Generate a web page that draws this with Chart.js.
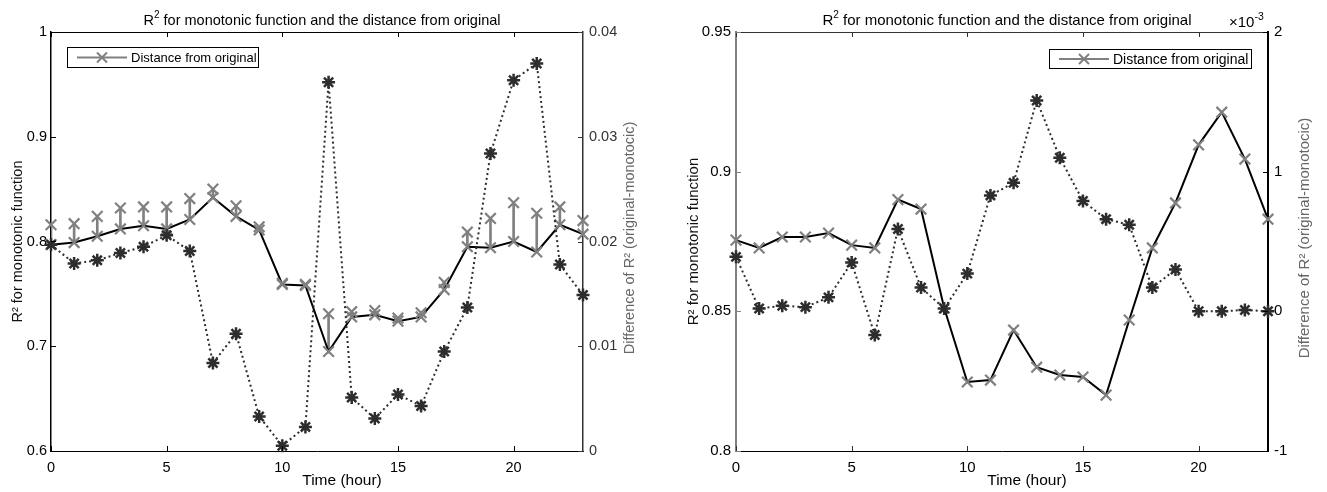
<!DOCTYPE html>
<html>
<head>
<meta charset="utf-8">
<script src="https://cdn.jsdelivr.net/npm/chart.js@4.4.1/dist/chart.umd.min.js"></script>
<style>
  body { margin: 0; background: #fff; }
  .pane { position: absolute; top: 0; }
</style>
</head>
<body>
<canvas id="left" class="pane" width="663" height="492" style="left:0"></canvas>
<canvas id="right" class="pane" width="664" height="492" style="left:663px"></canvas>
<script>
// hours on the x axis
const hours = [0,1,2,3,4,5,6,7,8,9,10,11,12,13,14,15,16,17,18,19,20,21,22,23];
const hourTicks = [0,5,10,15,20];

// left panel
const monoLeft = [0.797,0.799,0.805,0.812,0.815,0.812,0.821,0.842,0.824,0.811,0.759,0.758,0.695,0.728,0.730,0.724,0.728,0.754,0.795,0.794,0.800,0.790,0.816,0.807];
const origLeft = [0.816,0.817,0.824,0.832,0.833,0.833,0.841,0.850,0.834,0.814,0.760,0.759,0.731,0.733,0.734,0.727,0.732,0.761,0.809,0.822,0.837,0.827,0.833,0.820];
const diffLeft = [0.0197,0.0179,0.0182,0.0189,0.0195,0.0206,0.0191,0.0084,0.0112,0.0033,0.0005,0.0023,0.0352,0.0051,0.0031,0.0054,0.0043,0.0095,0.0137,0.0284,0.0354,0.0370,0.0178,0.0149];
const r2TicksLeft = [0.6,0.7,0.8,0.9,1];
const diffTicksLeft = [0,0.01,0.02,0.03,0.04];

// right panel (difference in units of 10^-3)
const monoRight = [0.8755,0.8727,0.8766,0.8766,0.878,0.8737,0.8727,0.890,0.8866,0.8512,0.8247,0.8254,0.8433,0.830,0.8272,0.8265,0.820,0.8469,0.8727,0.8888,0.9096,0.9213,0.9045,0.883];
const diffRight = [0.39,0.02,0.04,0.03,0.10,0.35,-0.17,0.59,0.17,0.02,0.27,0.83,0.92,1.51,1.10,0.79,0.66,0.62,0.17,0.30,0.00,0.00,0.01,0.00];
const r2TicksRight = [0.8,0.85,0.9,0.95];
const diffTicksRight = [-1,0,1,2];

const fam = "'Liberation Sans', Arial, sans-serif";
const gray = 'rgb(128,128,128)';
const dark = 'rgb(45,45,45)';

function setTicks(arr) {
	return function(s) { s.ticks = arr.map(v => ({ value: v })); };
}
function fmt(v) { return String(+Number(v).toFixed(3)); }

// matlab-like frame: top edge, inward ticks, titles, legend box
const matlabFrame = {
	id: 'matlabFrame',
	afterDraw(chart, args, o) {
		const ctx = chart.ctx, a = chart.chartArea, sc = chart.scales;
		const fs = o.fs;
		ctx.save();
		function seg(x1, y1, x2, y2, col, w) {
			ctx.strokeStyle = col; ctx.lineWidth = w || 1;
			ctx.beginPath(); ctx.moveTo(x1, y1); ctx.lineTo(x2, y2); ctx.stroke();
		}
		seg(a.left, a.top + 0.5, a.right, a.top + 0.5, o.topColor);
		sc.x.ticks.forEach(t => {
			const px = Math.round(sc.x.getPixelForValue(t.value)) + 0.5;
			seg(px, a.bottom, px, a.bottom - 5, o.topColor);
			seg(px, a.top, px, a.top + 5, o.topColor);
		});
		sc.yL.ticks.forEach(t => {
			const py = Math.round(sc.yL.getPixelForValue(t.value)) + 0.5;
			seg(a.left, py, a.left + 5, py, o.leftColor);
		});
		sc.yR.ticks.forEach(t => {
			const py = Math.round(sc.yR.getPixelForValue(t.value)) + 0.5;
			seg(a.right, py, a.right - 5, py, o.rightColor);
		});

		// title with superscript
		ctx.fillStyle = '#000';
		ctx.textBaseline = 'alphabetic';
		const big = fs + 'px ' + fam, small = '10px ' + fam;
		const rest = ' for monotonic function and the distance from original';
		ctx.font = big; const wR = ctx.measureText('R').width, wRest = ctx.measureText(rest).width;
		ctx.font = small; const w2 = ctx.measureText('2').width;
		let tx = (a.left + a.right) / 2 - (wR + w2 + wRest) / 2 + 5;
		const ty = 25;
		ctx.font = big; ctx.fillText('R', tx, ty); tx += wR;
		ctx.font = small; ctx.fillText('2', tx, ty - 7); tx += w2;
		ctx.font = big; ctx.fillText(rest, tx, ty);

		// x axis title
		ctx.font = '15.5px ' + fam;
		ctx.textAlign = 'center';
		ctx.textBaseline = 'middle';
		ctx.fillText('Time (hour)', (a.left + a.right) / 2 + 25, 481);

		// right axis title, reading bottom to top
		const rt = o.rightTitle;
		ctx.save();
		ctx.translate(rt.x, 238);
		ctx.rotate(-Math.PI / 2);
		ctx.fillStyle = '#666';
		ctx.font = fs + 'px ' + fam;
		ctx.fillText(rt.text, 0, 0);
		ctx.restore();
		ctx.textAlign = 'left';

		// exponent label
		if (o.exponent) {
			ctx.textBaseline = 'alphabetic';
			ctx.font = '15px ' + fam;
			ctx.fillText('\u00d710', o.exponent.x, o.exponent.y);
			const w = ctx.measureText('\u00d710').width;
			ctx.font = '10.5px ' + fam;
			ctx.fillText('-3', o.exponent.x + w, o.exponent.y - 7);
		}

		// legend box
		const L = o.legend;
		ctx.fillStyle = '#fff';
		ctx.fillRect(L.x, L.y, L.w, L.h);
		ctx.strokeStyle = '#000'; ctx.lineWidth = 1;
		ctx.strokeRect(L.x + 0.5, L.y + 0.5, L.w, L.h);
		const cy = L.y + L.h / 2 + 0.5;
		seg(L.x + 10, cy, L.x + 60, cy, gray, 2);
		seg(L.x + 30, cy - 5, L.x + 40, cy + 5, gray, 2);
		seg(L.x + 30, cy + 5, L.x + 40, cy - 5, gray, 2);
		ctx.fillStyle = '#000';
		ctx.font = L.size + 'px ' + fam;
		ctx.textBaseline = 'middle';
		ctx.fillText(L.label, L.x + 64, cy + 1);
		ctx.restore();
	}
};

function pts(ys) { return hours.map((h, i) => ({ x: h, y: ys[i] })); }

function makeOptions(p) {
	const fs = p.frame.fs;
	return {
		responsive: false,
		animation: false,
		layout: { padding: { top: 32, left: 0, right: 0, bottom: 0 } },
		plugins: {
			legend: { display: false },
			tooltip: { enabled: false },
			matlabFrame: p.frame
		},
		scales: {
			x: {
				type: 'linear', position: 'bottom', min: 0, max: 23, offset: false,
				afterBuildTicks: setTicks(hourTicks),
				afterFit: s => { s.height = 41; },
				grid: { display: true, offset: false, drawOnChartArea: false, drawTicks: false },
				border: { color: '#000', width: 1 },
				ticks: { color: '#000', padding: 8, font: { family: fam, size: fs }, callback: fmt },
				title: { display: false }
			},
			yL: {
				type: 'linear', position: 'left', min: p.yL.min, max: p.yL.max,
				afterBuildTicks: setTicks(p.yL.ticks),
				afterFit: s => { s.width = p.yL.width; },
				grid: { display: true, drawOnChartArea: false, drawTicks: false },
				border: { color: p.frame.leftColor, width: p.yL.bw },
				ticks: { color: '#000', padding: p.yL.pad, font: { family: fam, size: fs }, callback: fmt },
				title: { display: true, text: 'R\u00b2 for monotonic function', color: '#111', font: { family: fam, size: fs }, padding: { top: p.yL.tpad, bottom: 0 } }
			},
			yR: {
				type: 'linear', position: 'right', min: p.yR.min, max: p.yR.max,
				afterBuildTicks: setTicks(p.yR.ticks),
				afterFit: s => { s.width = p.yR.width; },
				grid: { display: true, drawOnChartArea: false, drawTicks: false },
				border: { color: p.frame.rightColor, width: p.yR.bw },
				ticks: { color: p.yR.labelColor, padding: 6, font: { family: fam, size: fs }, callback: fmt },
				title: { display: false }
			}
		}
	};
}

function diffSet(data) {
	return {
		type: 'line', label: 'Difference', data: pts(data), yAxisID: 'yR',
		borderColor: dark, borderWidth: 2, borderDash: [2, 3], fill: false, tension: 0,
		pointStyle: 'star', pointRadius: 6.5, pointBorderWidth: 2.5, pointBorderColor: dark,
		clip: false, order: 0
	};
}
function monoSet(data) {
	return {
		type: 'line', label: 'Monotonic', data: pts(data), yAxisID: 'yL',
		borderColor: '#000', borderWidth: 2, fill: false, tension: 0,
		pointStyle: 'crossRot', pointRadius: 7.5, pointBorderWidth: 2.2, pointBorderColor: gray,
		clip: false, order: 2
	};
}

new Chart(document.getElementById('left'), {
	type: 'line',
	data: {
		datasets: [
			diffSet(diffLeft),
			{
				type: 'line', label: 'Distance from original', data: pts(origLeft), yAxisID: 'yL',
				showLine: false, pointStyle: 'crossRot', pointRadius: 7.5, pointBorderWidth: 2.2,
				pointBorderColor: gray, clip: false, order: 1
			},
			monoSet(monoLeft),
			{
				type: 'bar', label: 'stem', yAxisID: 'yL',
				data: hours.map((h, i) => ({ x: h, y: [monoLeft[i], origLeft[i]] })),
				backgroundColor: gray, borderWidth: 0, barThickness: 2, grouped: false, order: 3
			}
		]
	},
	options: makeOptions({
		frame: { fs: 14.5, topColor: '#000', leftColor: '#000', rightColor: '#333',
			rightTitle: { x: 630, text: 'Difference of R\u00b2 (original-monotocic)' },
			legend: { x: 67, y: 47, w: 191, h: 20, size: 13, label: 'Distance from original' } },
		yL: { min: 0.6, max: 1, ticks: r2TicksLeft, width: 51, pad: 4, bw: 1.5, tpad: 9 },
		yR: { min: 0, max: 0.04, ticks: diffTicksLeft, width: 80, bw: 1.5, labelColor: '#333' }
	}),
	plugins: [matlabFrame]
});

new Chart(document.getElementById('right'), {
	type: 'line',
	data: {
		datasets: [
			diffSet(diffRight),
			monoSet(monoRight)
		]
	},
	options: makeOptions({
		frame: { fs: 15, topColor: '#333', leftColor: gray, rightColor: '#000',
			rightTitle: { x: 642, text: 'Difference of R\u00b2 (original-monotocic)' },
			exponent: { x: 566, y: 27 },
			legend: { x: 386, y: 49, w: 202, h: 19, size: 14, label: 'Distance from original' } },
		yL: { min: 0.8, max: 0.95, ticks: r2TicksRight, width: 73, pad: 5, bw: 2, tpad: 22 },
		yR: { min: -1, max: 2, ticks: diffTicksRight, width: 59, bw: 2, labelColor: '#000' }
	}),
	plugins: [matlabFrame]
});
</script>
</body>
</html>
